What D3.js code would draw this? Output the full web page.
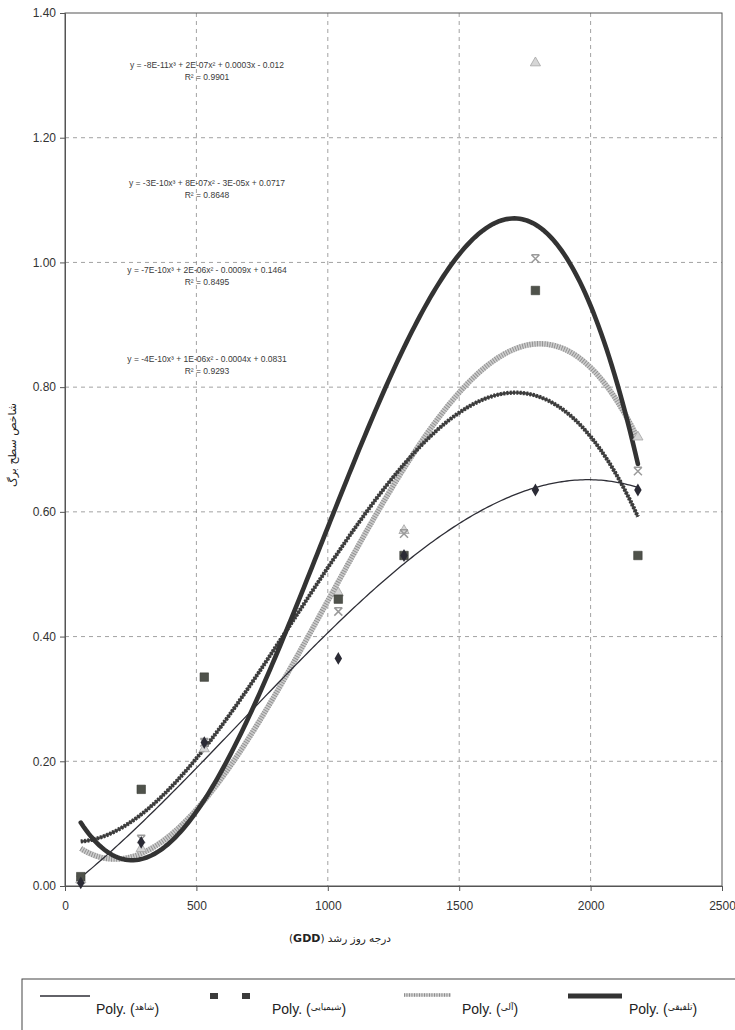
<!DOCTYPE html>
<html>
<head>
<meta charset="utf-8">
<script src="https://cdn.jsdelivr.net/npm/d3@7"></script>
<style>
    body { margin: 0; background: #fff; }
    svg { display: block; }
</style>
</head>
<body>
<script>
// sampling dates (growing degree days) and measured LAI per treatment
const gdd = [60, 290, 530, 1040, 1290, 1790, 2180];
const controlLai = [0.005, 0.07, 0.23, 0.365, 0.53, 0.635, 0.635];
const chemicalLai = [0.015, 0.155, 0.335, 0.46, 0.53, 0.955, 0.53];
const organicLai = [0.01, 0.06, 0.22, 0.47, 0.57, 1.32, 0.72];
const integratedLai = [0.01, 0.075, 0.23, 0.44, 0.565, 1.006, 0.665];

// polynomial (order 3) trend lines
const trendGdd = [60, 150, 250, 400, 500, 750, 1000, 1250, 1500, 1750, 2000, 2180];
const controlTrend = [0.01, 0.045, 0.09, 0.15, 0.19, 0.295, 0.40, 0.505, 0.585, 0.635, 0.648, 0.64];
const chemicalTrend = [0.075, 0.085, 0.10, 0.15, 0.19, 0.365, 0.52, 0.65, 0.76, 0.785, 0.72, 0.595];
const organicTrend = [0.063, 0.048, 0.045, 0.07, 0.12, 0.28, 0.455, 0.66, 0.775, 0.862, 0.84, 0.715];
const integratedTrend = [0.10, 0.06, 0.045, 0.07, 0.11, 0.32, 0.585, 0.83, 1.0, 1.06, 0.955, 0.665];

const seriesNames = ["شاهد", "شیمیایی", "آلی", "تلفیقی"];
const equationTexts = [
    "y = -8E-11x³ + 2E-07x² + 0.0003x - 0.012",
    "y = -3E-10x³ + 8E-07x² - 3E-05x + 0.0717",
    "y = -7E-10x³ + 2E-06x² - 0.0009x + 0.1464",
    "y = -4E-10x³ + 1E-06x² - 0.0004x + 0.0831"
];
const rSquaredTexts = ["R² = 0.9901", "R² = 0.8648", "R² = 0.8495", "R² = 0.9293"];

const xTicks = [0, 500, 1000, 1500, 2000, 2500];
const yTicks = [0, 0.2, 0.4, 0.6, 0.8, 1.0, 1.2, 1.4];
const yTitle = "شاخص سطح برگ";
const xTitle = "درجه روز رشد (";

// least squares cubic, the way a "Poly." trendline is drawn
function fitCubic(xs, ys){
    let A = [[0,0,0,0],[0,0,0,0],[0,0,0,0],[0,0,0,0]];
    let b = [0,0,0,0];
    xs.forEach((xv, i) => {
        let t = xv / 1000;
        let p = [1, t, t*t, t*t*t];
        for (let r = 0; r < 4; r++){
            for (let c = 0; c < 4; c++) A[r][c] += p[r] * p[c];
            b[r] += p[r] * ys[i];
        }
    });
    for (let k = 0; k < 4; k++){
        for (let r = k + 1; r < 4; r++){
            let f = A[r][k] / A[k][k];
            for (let c = k; c < 4; c++) A[r][c] -= f * A[k][c];
            b[r] -= f * b[k];
        }
    }
    let coef = [0,0,0,0];
    for (let r = 3; r >= 0; r--){
        let s = b[r];
        for (let c = r + 1; c < 4; c++) s -= A[r][c] * coef[c];
        coef[r] = s / A[r][r];
    }
    return xv => {
        let t = xv / 1000;
        return coef[0] + coef[1]*t + coef[2]*t*t + coef[3]*t*t*t;
    };
}

class LaiChart {
    constructor(){
        this._width = 735;
        this._height = 1030;
        this._margins = {top:13, left:65, right:13, bottom:144};
        this._svg = null;
        this._body = null;
        this._scaleX = null;
        this._scaleY = null;
    }

    getBodyWidth(){
        return this._width - this._margins.left - this._margins.right;
    }

    getBodyHeight(){
        return this._height - this._margins.top - this._margins.bottom;
    }

    renderScales(){
        this._scaleX = d3.scaleLinear().domain([0, 2500]).range([0, this.getBodyWidth()]);
        this._scaleY = d3.scaleLinear().domain([0, 1.4]).range([this.getBodyHeight(), 0]);
    }

    renderGrid(){
        let g = this._body.append('g').attr('class', 'grid');
        let x = this._scaleX, y = this._scaleY;

        g.selectAll('line.h')
            .data(yTicks.filter(d => d > 0 && d < 1.4))
            .enter().append('line')
            .attr('x1', 0).attr('x2', this.getBodyWidth())
            .attr('y1', d => y(d)).attr('y2', d => y(d))
            .attr('stroke', '#8a8a8a').attr('stroke-width', 0.8)
            .attr('stroke-dasharray', '4,4');

        g.selectAll('line.v')
            .data(xTicks.filter(d => d > 0 && d < 2500))
            .enter().append('line')
            .attr('y1', 0).attr('y2', this.getBodyHeight())
            .attr('x1', d => x(d)).attr('x2', d => x(d))
            .attr('stroke', '#8a8a8a').attr('stroke-width', 0.8)
            .attr('stroke-dasharray', '4,4');

        this._body.append('rect')
            .attr('width', this.getBodyWidth())
            .attr('height', this.getBodyHeight())
            .attr('fill', 'none')
            .attr('stroke', '#555').attr('stroke-width', 1);
    }

    renderAxes(){
        let yAxis = d3.axisLeft(this._scaleY).tickValues(yTicks)
            .tickFormat(d3.format('.2f')).tickSize(5).tickPadding(4);
        let xAxis = d3.axisBottom(this._scaleX).tickValues(xTicks)
            .tickFormat(d3.format('d')).tickSize(5).tickPadding(10);

        let ya = this._body.append('g').call(yAxis);
        let xa = this._body.append('g')
            .attr('transform', 'translate(0,' + this.getBodyHeight() + ')')
            .call(xAxis);

        [ya, xa].forEach(a => {
            a.select('.domain').attr('stroke', '#555');
            a.selectAll('.tick line').attr('stroke', '#555');
            a.selectAll('.tick text')
                .attr('fill', '#333')
                .style('font', '12px "Liberation Sans", Arial, sans-serif');
        });
    }

    renderTrends(){
        let x = this._scaleX, y = this._scaleY;
        let line = d3.line().x(d => x(d[0])).y(d => y(d[1]));
        let span = d3.range(trendGdd[0], trendGdd[trendGdd.length - 1], 10)
            .concat([trendGdd[trendGdd.length - 1]]);
        let trend = vals => {
            let f = fitCubic(trendGdd, vals);
            return line(span.map(v => [v, f(v)]));
        };
        let g = this._body.append('g').attr('class', 'trends');

        g.append('path').attr('d', trend(organicTrend))
            .attr('fill', 'none').attr('stroke', '#cdcdcd').attr('stroke-width', 5.5);
        g.append('path').attr('d', trend(organicTrend))
            .attr('fill', 'none').attr('stroke', '#8e8e8e').attr('stroke-width', 5.5)
            .attr('stroke-dasharray', '0.9,1.6');

        g.append('path').attr('d', trend(chemicalTrend))
            .attr('fill', 'none').attr('stroke', '#4a4a4a').attr('stroke-width', 2.4);
        g.append('path').attr('d', trend(chemicalTrend))
            .attr('fill', 'none').attr('stroke', '#3b3b3b').attr('stroke-width', 4.2)
            .attr('stroke-dasharray', '2,1.3');

        g.append('path').attr('d', trend(controlTrend))
            .attr('fill', 'none').attr('stroke', '#2e2e36').attr('stroke-width', 1.3);

        g.append('path').attr('d', trend(integratedTrend))
            .attr('fill', 'none').attr('stroke', '#333').attr('stroke-width', 4.6)
            .attr('stroke-linecap', 'round');
    }

    renderMarkers(){
        let x = this._scaleX, y = this._scaleY;
        let g = this._body.append('g').attr('class', 'markers');
        let pts = arr => arr.map((v, i) => [x(gdd[i]), y(v)]);

        g.selectAll('path.tri').data(pts(organicLai)).enter().append('path')
            .attr('d', d3.symbol(d3.symbolTriangle, 45))
            .attr('transform', d => 'translate(' + d + ')')
            .attr('fill', '#d6d6d6').attr('stroke', '#a5a5a5').attr('stroke-width', 0.8);

        g.selectAll('path.xm').data(pts(integratedLai)).enter().append('path')
            .attr('d', 'M-4,-4L4,4M4,-4L-4,4M-4,-4L4,-4')
            .attr('transform', d => 'translate(' + d + ')')
            .attr('fill', 'none').attr('stroke', '#9a9a9a').attr('stroke-width', 1.5);

        g.selectAll('path.sq').data(pts(chemicalLai)).enter().append('path')
            .attr('d', d3.symbol(d3.symbolSquare, 72))
            .attr('transform', d => 'translate(' + d + ')')
            .attr('fill', '#4f524b').attr('stroke', '#3a3c36').attr('stroke-width', 0.6);

        g.selectAll('path.dia').data(pts(controlLai)).enter().append('path')
            .attr('d', d3.symbol(d3.symbolDiamond, 48))
            .attr('transform', d => 'translate(' + d + ')')
            .attr('fill', '#2b2b35');
    }

    renderEquations(){
        let cx = 207;
        let spots = [68, 186, 273, 362];
        let g = this._svg.append('g')
            .style('font', '8.5px "Liberation Sans", Arial, sans-serif')
            .attr('fill', '#3a3a3a').attr('text-anchor', 'middle');

        equationTexts.forEach((t, i) => {
            g.append('text').attr('x', cx).attr('y', spots[i]).text(t);
            g.append('text').attr('x', cx).attr('y', spots[i] + 12).text(rSquaredTexts[i]);
        });
    }

    renderTitles(){
        this._svg.append('text')
            .attr('transform', 'translate(16,445) rotate(-90)')
            .attr('text-anchor', 'middle')
            .attr('direction', 'rtl')
            .attr('fill', '#222')
            .style('font', '11px "DejaVu Sans", sans-serif')
            .text(yTitle);

        let t = this._svg.append('text')
            .attr('x', 340).attr('y', 942)
            .attr('text-anchor', 'middle')
            .attr('direction', 'rtl')
            .attr('fill', '#222')
            .style('font', '10.5px "DejaVu Sans", sans-serif');
        t.append('tspan').text(xTitle);
        t.append('tspan').style('font-weight', 'bold').style('font-size', '11px').text('GDD');
        t.append('tspan').text(')');
    }

    renderLegend(){
        let lg = this._svg.append('g').attr('class', 'legend');
        lg.append('rect')
            .attr('x', 22).attr('y', 979).attr('width', 730).attr('height', 70)
            .attr('fill', 'none').attr('stroke', '#444').attr('stroke-width', 1);

        let ly = 996;
        lg.append('line').attr('x1', 40).attr('x2', 90).attr('y1', ly).attr('y2', ly)
            .attr('stroke', '#2e2e36').attr('stroke-width', 1.5);

        [214, 246].forEach(sx => {
            lg.append('rect').attr('x', sx - 4).attr('y', ly - 3).attr('width', 8).attr('height', 6)
                .attr('fill', '#3b3b3b');
        });

        lg.append('line').attr('x1', 404).attr('x2', 451).attr('y1', ly - 1).attr('y2', ly - 1)
            .attr('stroke', '#d0d0d0').attr('stroke-width', 3.5);
        lg.append('line').attr('x1', 404).attr('x2', 451).attr('y1', ly - 1).attr('y2', ly - 1)
            .attr('stroke', '#888').attr('stroke-width', 3.5).attr('stroke-dasharray', '0.9,1.6');

        lg.append('line').attr('x1', 568).attr('x2', 622).attr('y1', ly).attr('y2', ly)
            .attr('stroke', '#333').attr('stroke-width', 5);

        let textX = [96, 272, 462, 629];
        seriesNames.forEach((name, i) => {
            let t = lg.append('text')
                .attr('x', textX[i]).attr('y', 1014)
                .attr('fill', '#222')
                .style('font', '14px "Liberation Sans", Arial, sans-serif');
            t.append('tspan').text('Poly. (');
            t.append('tspan').attr('dy', -4)
                .style('font', '9px "DejaVu Sans", sans-serif').text(name);
            t.append('tspan').attr('dy', 4).text(')');
        });
    }

    renderChart(){
        this._svg = d3.select('body').append('svg')
            .attr('width', this._width)
            .attr('height', this._height);

        this._svg.append('rect')
            .attr('width', this._width).attr('height', this._height)
            .attr('fill', '#fff');

        this._body = this._svg.append('g')
            .attr('transform', 'translate(' + this._margins.left + ',' + this._margins.top + ')');

        this.renderScales();
        this.renderGrid();
        this.renderAxes();
        this.renderTrends();
        this.renderMarkers();
        this.renderEquations();
        this.renderTitles();
        this.renderLegend();
        return this;
    }
}

new LaiChart().renderChart();
</script>
</body>
</html>
